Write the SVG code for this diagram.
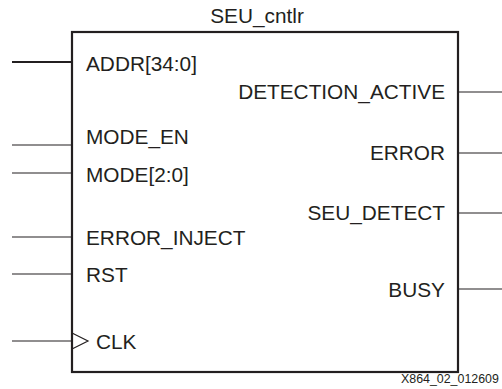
<svg xmlns="http://www.w3.org/2000/svg" width="502" height="389" viewBox="0 0 502 389">
<style>
.t{font-family:"Liberation Sans",Arial,sans-serif;font-size:20.8px;fill:#231f20}
.r{text-anchor:end}
.w{stroke:#231f20;stroke-width:1.2;fill:none}
.bus{stroke:#231f20;stroke-width:2;fill:none}
.box{stroke:#231f20;stroke-width:2.2;fill:#fff}
</style>
<rect width="502" height="389" fill="#fff"/>
<g id="connectors">
<line class="bus" x1="12" y1="62" x2="72" y2="62"/>
<line class="w" x1="12" y1="145" x2="72" y2="145"/>
<line class="w" x1="12" y1="173" x2="72" y2="173"/>
<line class="w" x1="12" y1="237" x2="72" y2="237"/>
<line class="w" x1="12" y1="274" x2="72" y2="274"/>
<line class="w" x1="12" y1="341" x2="72" y2="341"/>
<line class="w" x1="458" y1="92" x2="502" y2="92"/>
<line class="w" x1="458" y1="153" x2="502" y2="153"/>
<line class="w" x1="458" y1="213" x2="502" y2="213"/>
<line class="w" x1="458" y1="289" x2="502" y2="289"/>
</g>
<g id="SEU_cntlr">
<rect class="box" x="72" y="32" width="386" height="340"/>
<text class="t" x="257" y="23" text-anchor="middle">SEU_cntlr</text>
<polyline class="w" points="72,333 88,341 72,349"/>
<text class="t" x="86" y="71">ADDR[34:0]</text>
<text class="t" x="86" y="144">MODE_EN</text>
<text class="t" x="86" y="182">MODE[2:0]</text>
<text class="t" x="86" y="245">ERROR_INJECT</text>
<text class="t" x="86" y="282">RST</text>
<text class="t" x="96" y="349">CLK</text>
<text class="t r" x="445" y="99">DETECTION_ACTIVE</text>
<text class="t r" x="445" y="160">ERROR</text>
<text class="t r" x="445" y="220">SEU_DETECT</text>
<text class="t r" x="445" y="297">BUSY</text>
</g>
<text x="401" y="383" style="font-family:'Liberation Sans',Arial,sans-serif;font-size:12.4px;fill:#231f20">X864_02_012609</text>
</svg>
